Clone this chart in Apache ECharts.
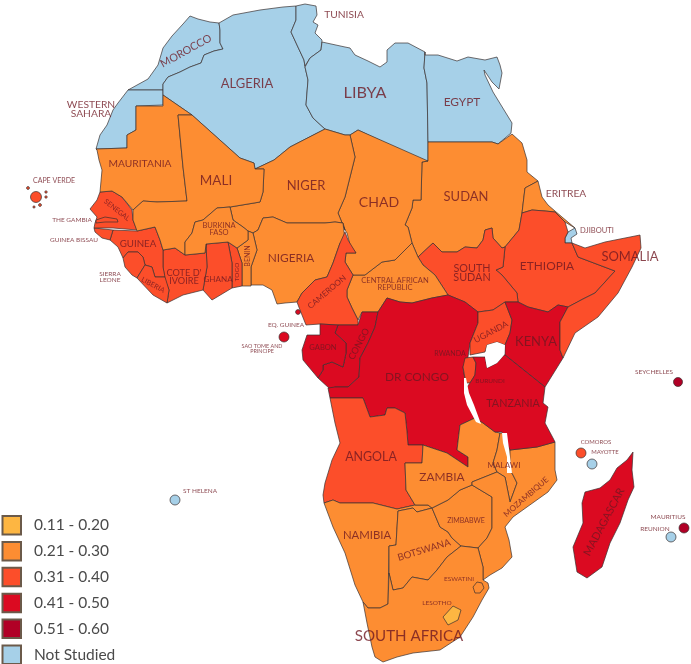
<!DOCTYPE html>
<html><head><meta charset="utf-8">
<style>html,body{margin:0;padding:0;background:#fff}#c{width:691px;height:664px}</style>
<script src="https://cdn.jsdelivr.net/npm/echarts@6/dist/echarts.min.js"></script>
</head><body><div id="c"></div>
<script>
// ---- data ----
const legendLabels = ['0.11 - 0.20','0.21 - 0.30','0.31 - 0.40','0.41 - 0.50','0.51 - 0.60','Not Studied'];
const binColors = ['#FDB642','#FD8D32','#FC4E2A','#DB0A21','#B10026','#A6D0E8'];
const notStudied = ['Morocco','Western Sahara','Algeria','Tunisia','Libya','Egypt','Djibouti','St Helena','Mayotte','Reunion'];
const bin020 = ['Lesotho'];
const bin030 = ['Mauritania','Mali','Niger','Chad','Sudan','Eritrea','Nigeria','Burkina Faso','Benin','Central African Republic','Zambia','Malawi','Mozambique','Zimbabwe','Namibia','Botswana','South Africa','Eswatini'];
const bin040 = ['Senegal','Gambia','Guinea Bissau','Guinea','Sierra Leone','Liberia','Cote d Ivoire','Ghana','Togo','Cameroon','South Sudan','Ethiopia','Somalia','Angola','Uganda','Rwanda Burundi','Cape Verde','Comoros'];
const bin050 = ['Eq Guinea','Sao Tome','Gabon','Congo','DR Congo','Kenya','Tanzania','Madagascar'];
const bin060 = ['Seychelles','Mauritius'];
const binValues = {low:0.17, mid:0.26, high:0.35, vhigh:0.45, top:0.55};

// ---- map outlines (x, y on the map sheet) ----
const outlines = {
'Morocco':[[128,90],[148,79],[158,65],[163,48],[172,36],[183,24],[190,16],[198,19],[210,22],[219,23],[220,30],[220,43],[223,49],[214,51],[204,55],[201,63],[190,67],[180,72],[168,77],[163,84],[163,90]],
'Western Sahara':[[128,90],[163,90],[163,105],[136,106],[136,130],[127,135],[127,148],[96,149],[100,135],[107,125],[113,110],[118,103]],
'Algeria':[[219,23],[233,15],[260,10],[283,7],[296,6],[296,20],[291,32],[297,45],[304,60],[305,67],[308,80],[306,105],[313,118],[325,129],[290,147],[274,160],[255,169],[254,163],[240,158],[192,115],[163,95],[163,84],[168,77],[180,72],[190,67],[201,63],[204,55],[214,51],[223,49],[220,43],[220,30]],
'Tunisia':[[296,6],[305,4],[316,6],[317,15],[313,22],[318,25],[315,33],[322,40],[321,50],[310,58],[305,66],[304,60],[297,45],[291,32],[296,20]],
'Libya':[[322,42],[345,47],[350,48],[355,55],[368,61],[380,67],[387,62],[387,50],[395,43],[408,43],[425,52],[424,68],[427,83],[428,142],[428,163],[358,130],[350,135],[345,135],[325,129],[313,118],[306,105],[308,80],[305,67],[310,58],[321,50]],
'Egypt':[[425,52],[425,55],[438,55],[457,61],[468,57],[485,60],[497,57],[500,65],[502,73],[499,89],[492,82],[484,70],[485,75],[493,92],[512,123],[511,133],[498,144],[492,142],[428,142],[427,83],[424,68]],
'Sudan':[[428,142],[478,142],[492,142],[498,144],[512,134],[522,143],[527,160],[527,172],[538,181],[525,188],[522,213],[519,230],[505,247],[502,248],[493,238],[492,228],[485,230],[483,240],[477,248],[465,247],[457,252],[442,252],[433,243],[418,257],[412,243],[408,227],[405,225],[412,208],[413,200],[421,200],[422,162],[428,161]],
'Eritrea':[[538,181],[542,197],[548,205],[562,217],[575,228],[565,222],[555,212],[545,211],[532,210],[522,213],[525,188]],
'Djibouti':[[575,228],[577,234],[571,238],[572,243],[565,243],[565,238],[568,232]],
'Ethiopia':[[522,213],[532,210],[545,211],[555,212],[565,222],[568,232],[565,238],[565,243],[572,243],[578,257],[615,271],[595,293],[583,299],[568,307],[558,305],[548,312],[528,307],[518,302],[517,293],[502,275],[496,270],[503,267],[505,247],[519,230]],
'South Sudan':[[418,257],[433,243],[442,252],[457,252],[465,247],[477,248],[483,240],[485,230],[492,228],[493,238],[502,248],[505,247],[503,267],[496,270],[502,275],[517,293],[518,302],[505,302],[493,310],[478,312],[465,302],[448,295],[435,275],[423,265]],
'Central African Republic':[[412,243],[418,257],[423,265],[435,275],[448,295],[432,298],[412,303],[400,302],[387,298],[378,312],[362,312],[358,320],[352,308],[347,297],[347,290],[353,275],[365,275],[382,262],[395,260]],
'Chad':[[358,130],[428,161],[422,162],[421,200],[413,200],[412,208],[405,225],[408,227],[412,243],[395,260],[382,262],[365,275],[353,275],[345,262],[346,253],[356,253],[350,245],[347,233],[345,230],[338,213],[345,197],[355,157],[350,135]],
'Niger':[[325,129],[345,135],[350,135],[355,157],[345,197],[338,213],[345,230],[343,223],[335,222],[325,223],[300,223],[287,223],[273,217],[263,218],[258,230],[253,233],[248,231],[243,227],[233,220],[230,207],[260,202],[263,192],[264,169],[255,169],[274,160],[290,147]],
'Nigeria':[[258,230],[263,218],[273,217],[287,223],[300,223],[325,223],[335,222],[343,223],[345,240],[340,243],[333,263],[327,277],[315,280],[302,293],[297,302],[285,303],[277,304],[272,290],[263,285],[251,285],[251,267],[257,250],[253,233]],
'Benin':[[248,231],[253,233],[257,250],[251,267],[251,286],[242,286],[242,263],[237,248],[248,240]],
'Togo':[[228,242],[237,248],[242,263],[242,286],[232,288],[232,263]],
'Ghana':[[206,244],[228,242],[232,263],[232,288],[212,300],[203,290],[207,267]],
'Cote d Ivoire':[[163,250],[175,248],[185,255],[205,253],[206,244],[207,267],[203,290],[183,295],[167,303],[169,290],[165,280],[163,267]],
'Guinea':[[113,230],[137,231],[155,227],[160,240],[163,250],[163,267],[165,277],[155,277],[152,267],[145,265],[143,257],[138,252],[128,252],[123,258],[118,247],[110,240]],
'Guinea Bissau':[[94,228],[113,230],[110,240],[102,238],[95,232]],
'Senegal':[[90,209],[97,200],[100,192],[112,191],[122,197],[132,210],[133,220],[137,230],[113,228],[94,228],[95,223],[97,217]],
'Gambia':[[96,220],[105,217],[117,219],[118,222],[105,222],[96,223]],
'Sierra Leone':[[128,252],[138,252],[143,257],[145,265],[137,278],[132,275],[125,267],[123,258]],
'Liberia':[[145,265],[152,267],[155,277],[165,277],[169,290],[167,303],[153,295],[137,278]],
'Mauritania':[[96,149],[127,148],[127,135],[136,130],[136,106],[163,106],[163,95],[192,115],[178,115],[183,167],[187,201],[157,202],[143,201],[133,210],[122,197],[112,191],[100,192],[102,170],[99,160],[97,150]],
'Mali':[[192,115],[240,158],[254,163],[255,169],[264,169],[263,192],[260,202],[230,207],[217,208],[203,220],[195,222],[192,233],[185,242],[185,255],[175,248],[163,250],[160,240],[155,227],[137,231],[133,220],[133,210],[143,201],[157,202],[187,201],[183,167],[178,115]],
'Burkina Faso':[[230,207],[233,220],[243,227],[248,231],[248,240],[237,248],[228,242],[206,244],[205,253],[185,255],[185,242],[192,233],[195,222],[203,220],[217,208]],
'Cameroon':[[345,232],[348,240],[356,253],[346,253],[345,262],[353,275],[347,290],[347,297],[352,308],[358,320],[358,325],[338,325],[320,324],[306,325],[300,310],[297,302],[302,293],[315,280],[327,277],[333,263],[340,243]],
'Congo':[[358,325],[362,312],[378,312],[375,327],[368,343],[360,358],[359,377],[348,387],[335,387],[330,389],[318,378],[323,370],[323,365],[332,362],[343,367],[346,353],[346,343],[335,333],[338,325]],
'Gabon':[[320,324],[338,325],[335,333],[346,343],[346,353],[343,367],[332,362],[323,365],[323,370],[318,378],[303,360],[302,350],[307,335],[320,335]],
'DR Congo':[[378,312],[387,298],[400,302],[412,303],[432,298],[448,295],[465,302],[478,312],[478,323],[470,343],[468,357],[463,367],[465,380],[470,403],[475,418],[460,425],[457,450],[468,457],[468,467],[462,463],[447,453],[423,445],[408,445],[407,432],[405,413],[395,408],[387,408],[385,415],[370,417],[363,398],[330,398],[328,388],[335,387],[348,387],[359,377],[360,358],[368,343],[375,327]],
'Angola':[[330,398],[363,398],[370,417],[385,415],[387,408],[395,408],[405,413],[407,432],[408,445],[423,445],[422,463],[405,463],[406,490],[415,505],[397,509],[373,503],[340,503],[333,500],[324,503],[323,495],[325,483],[332,460],[340,443],[335,423]],
'Namibia':[[324,503],[333,500],[340,503],[373,503],[397,509],[415,505],[428,505],[432,508],[417,512],[413,508],[398,511],[396,545],[389,546],[388,604],[380,608],[368,608],[363,602],[355,585],[345,553],[333,527]],
'Botswana':[[398,511],[413,508],[417,512],[432,508],[440,527],[448,532],[452,538],[461,546],[447,557],[437,570],[428,580],[412,577],[403,588],[393,590],[389,573],[389,546],[396,545]],
'Zimbabwe':[[432,508],[448,500],[460,490],[472,485],[492,497],[492,528],[487,538],[478,548],[461,546],[452,538],[448,532],[440,527]],
'Zambia':[[405,463],[422,463],[423,445],[447,453],[462,463],[468,467],[468,457],[457,450],[460,425],[475,418],[483,423],[495,432],[500,433],[497,450],[493,463],[497,472],[472,482],[472,485],[460,490],[448,500],[432,508],[428,505],[415,505],[406,490]],
'Malawi':[[500,433],[505,433],[510,450],[510,470],[513,475],[517,483],[510,502],[507,487],[505,477],[497,472],[493,463],[497,450]],
'Mozambique':[[510,450],[537,447],[555,442],[555,470],[557,480],[548,492],[527,507],[513,517],[505,527],[509,540],[512,557],[502,568],[490,575],[483,580],[483,567],[478,548],[487,538],[492,528],[492,497],[472,485],[472,482],[497,472],[505,477],[507,487],[510,502],[517,483],[513,475],[510,470]],
'South Africa':[[388,604],[389,573],[393,590],[403,588],[412,577],[428,580],[437,570],[447,557],[461,546],[478,548],[483,567],[483,580],[488,583],[489,588],[482,600],[473,617],[460,637],[440,650],[413,653],[397,657],[383,662],[375,657],[372,647],[367,623],[363,602],[368,608],[380,608]],
'Lesotho':[[453,606],[461,610],[458,620],[448,625],[443,617]],
'Eswatini':[[473,587],[477,582],[482,583],[484,588],[480,593],[475,593]],
'Uganda':[[478,312],[493,310],[505,302],[512,320],[510,333],[505,345],[497,342],[487,345],[485,352],[470,355],[470,343],[478,323]],
'Rwanda Burundi':[[463,367],[465,358],[473,357],[476,363],[475,375],[470,383],[466,383],[465,378]],
'Kenya':[[505,302],[518,302],[528,307],[548,312],[558,305],[568,307],[560,322],[560,350],[563,358],[545,387],[505,355],[505,345],[510,333],[512,320]],
'Somalia':[[572,243],[585,248],[605,242],[625,238],[640,235],[641,248],[632,267],[618,293],[598,317],[575,333],[563,358],[560,350],[560,322],[568,307],[583,299],[595,293],[615,271],[578,257]],
'Tanzania':[[505,355],[545,387],[543,403],[548,407],[545,423],[553,438],[555,442],[537,447],[510,450],[502,432],[495,432],[483,423],[475,418],[470,403],[467,387],[470,383],[475,375],[476,363],[473,357],[485,357],[487,368],[497,363],[504,355]],
'Madagascar':[[633,452],[632,470],[634,487],[628,500],[620,523],[610,543],[602,567],[587,578],[577,572],[573,547],[583,523],[582,503],[585,492],[600,488],[610,480],[617,468],[627,460]],
'Lake Victoria':[[487,345],[497,342],[505,345],[504,355],[497,363],[487,368],[485,357]],
'Lake Tanganyika':[[464,378],[466,378],[469,393],[474,405],[481,424],[476,422],[467,405],[464,393]],
'Lake Malawi':[[502,433],[507,433],[510,457],[512,473],[507,473],[507,457],[503,443]]
};
// small island markers: centre x, y and radius on the map sheet
const islands = {
'Cape Verde':[[36,197,5.5],[28,188,1.5],[46,192,1.3],[46,197,1.3],[34,207,1.2],[40,205,1.5]],
'Eq Guinea':[[298,312,2.5]],
'Sao Tome':[[284,337,5]],
'St Helena':[[175,500,5]],
'Seychelles':[[678,382,4.5]],
'Comoros':[[581,453,5]],
'Mayotte':[[592,464,5]],
'Mauritius':[[684,528,5]],
'Reunion':[[671,537,5]]
};
// label placement: text, x, y, font size, rotation
const labels = [
['TUNISIA',344,15,9.5,0],['MOROCCO',186,51,10,29],['ALGERIA',247,84,12,0],['LIBYA',365,93,15,0],['EGYPT',462,102,11,0],
['WESTERN\nSAHARA',91,109,9.5,0],['MAURITANIA',140,164,9.5,0],['MALI',216,181,12.5,0],['NIGER',306,186,12,0],['CHAD',379,202,13,0],
['SUDAN',466,197,12,0],['ERITREA',566,194,9.5,0],['DJIBOUTI',597,231,7,0],['SOMALIA',630,257,12,0],['ETHIOPIA',547,266,11,0],
['SOUTH\nSUDAN',472,273,10,0],['CENTRAL AFRICAN\nREPUBLIC',395,284,7,0],['NIGERIA',291,258,11,0],['BURKINA\nFASO',219,229,7,0],
['BENIN',248,256,6.5,90],['TOGO',237,272,6,90],['GHANA',218,279,7.5,0],['COTE D\'\nIVOIRE',184,277,8.5,0],['GUINEA',138,244,9,0],
['LIBERIA',153,285,6.5,-28],['SENEGAL',117,210,6.5,-38],['THE GAMBIA',72,220,6,0],['GUINEA BISSAU',74,240,6,0],['SIERRA\nLEONE',110,277,6,0],
['CAPE VERDE',54,181,6.5,0],['CAMEROON',327,292,7.5,40],['EQ. GUINEA',286,325,6,0],['SAO TOME AND\nPRINCIPE',262,349,5,0],
['GABON',323,348,7,0],['CONGO',359,344,8.5,62],['DR CONGO',417,377,11,0],['RWANDA',450,354,6.5,0],['BURUNDI',490,381,6,0],
['UGANDA',491,332,8,28],['KENYA',536,342,12,0],['TANZANIA',513,404,10,0],['ANGOLA',371,457,11.5,0],['ZAMBIA',442,477,11,0],
['MALAWI',504,465,7.5,0],['MOZAMBIQUE',526,497,7.5,41],['ZIMBABWE',466,521,6.5,0],['NAMIBIA',367,535,10.5,0],['BOTSWANA',424,550,9,17],
['ESWATINI',459,579,6,0],['LESOTHO',437,603,6,0],['SOUTH AFRICA',409,636,14,0],['MADAGASCAR',604,522,10,62],
['MAURITIUS',668,517,6,0],['REUNION',655,529,6,0],['SEYCHELLES',654,372,6,0],['COMOROS',596,442,5.5,0],['MAYOTTE',605,452,5.5,0],['ST HELENA',200,491,6,0]
];

// ---- build ----
const FONT = 'Lato, "Open Sans", sans-serif';
const LABEL_SCALE = 1.08;
const flip = p => [p[0], -p[1]];
function dot(c){
  const n = 16, ring = [];
  for (let i = 0; i <= n; i++) { const t = i / n * 2 * Math.PI; ring.push([c[0] + c[2] * Math.cos(t), -(c[1] + c[2] * Math.sin(t))]); }
  return [ring];
}
const names = Array.from(new Set(Object.keys(outlines).concat(Object.keys(islands))));
const features = names.map(name => {
  const polys = [];
  if (outlines[name]) polys.push([outlines[name].concat([outlines[name][0]]).map(flip)]);
  (islands[name] || []).forEach(c => polys.push(dot(c)));
  return {type:'Feature', properties:{name}, geometry:{type:'MultiPolygon', coordinates:polys}};
});
echarts.registerMap('africa', {type:'FeatureCollection', features});

const seriesData = [];
notStudied.forEach(n => seriesData.push({name:n, value:null}));
bin020.forEach(n => seriesData.push({name:n, value:binValues.low}));
bin030.forEach(n => seriesData.push({name:n, value:binValues.mid}));
bin040.forEach(n => seriesData.push({name:n, value:binValues.high}));
bin050.forEach(n => seriesData.push({name:n, value:binValues.vhigh}));
bin060.forEach(n => seriesData.push({name:n, value:binValues.top}));

const chart = echarts.init(document.getElementById('c'), null, {renderer:'canvas'});
const lakeRegions = ['Lake Victoria','Lake Tanganyika','Lake Malawi'].map(name => ({name, itemStyle:{areaColor:'#fff', borderWidth:0, borderColor:'#fff'}, silent:true}));
chart.setOption({
  animation:false,
  backgroundColor:'#fff',
  geo:{
    map:'africa', roam:false, silent:true, aspectScale:1,
    boundingCoords:[[0,0],[691,-664]],
    left:0, top:0, width:691, height:664,
    label:{show:false},
    itemStyle:{areaColor:binColors[5], borderColor:'#3a3030', borderWidth:0.7},
    regions:lakeRegions
  },
  visualMap:{
    type:'piecewise', show:false, seriesIndex:0,
    pieces:[{min:0.11,max:0.20,color:binColors[0]},{min:0.21,max:0.30,color:binColors[1]},{min:0.31,max:0.40,color:binColors[2]},{min:0.41,max:0.50,color:binColors[3]},{min:0.51,max:0.60,color:binColors[4]}],
    outOfRange:{color:binColors[5]}
  },
  legend:{
    orient:'vertical', left:1.5, top:515, height:170, padding:0, itemWidth:18.5, itemHeight:18.5, itemGap:5.4,
    icon:'rect', selectedMode:false,
    data:legendLabels,
    textStyle:{fontFamily:FONT, fontSize:15.5, color:'#4a4a4a', padding:[0,0,0,8]}
  },
  series:[
    {type:'map', geoIndex:0, data:seriesData, silent:true},
    {type:'scatter', coordinateSystem:'geo', geoIndex:0, symbolSize:0, silent:true, z:5,
     data:labels.map(l => ({value:[l[1],-l[2]], label:{formatter:l[0], fontSize:l[3]*LABEL_SCALE, rotate:l[4], lineHeight:l[3]*0.98}})),
     label:{show:true, position:'inside', align:'center', verticalAlign:'middle', color:'#6e1822', fontFamily:FONT}
    }
  ].concat(legendLabels.map((n,i) => ({type:'scatter', coordinateSystem:'geo', geoIndex:0, name:n, data:[], itemStyle:{color:binColors[i], opacity:1, borderColor:'#6b5a4a', borderWidth:1}})))
});
</script></body></html>
